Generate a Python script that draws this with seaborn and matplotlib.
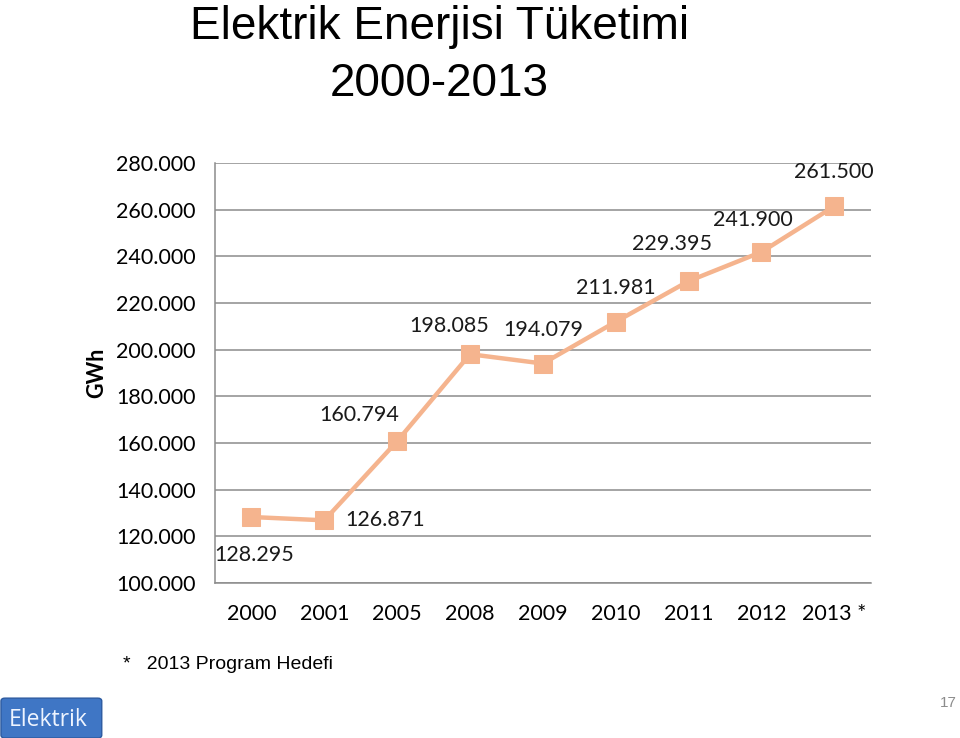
import numpy as np
import pandas as pd
import matplotlib
matplotlib.use("Agg")
import matplotlib.pyplot as plt
import seaborn as sns
from matplotlib.patches import FancyBboxPatch

years = ["2000", "2001", "2005", "2008", "2009", "2010", "2011", "2012", "2013 *"]
consumption = [128295, 126871, 160794, 198085, 194079, 211981, 229395, 241900, 261500]
# label offsets (points) relative to each marker
label_offsets = [(2, -27), (44, 0), (-27, 19), (-15, 20), (0, 24), (0, 24), (-12, 27), (-6, 23), (0, 25)]
y_ticks = list(range(100000, 280001, 20000))


def fmt(v):
    return f"{v:,.0f}".replace(",", ".") if v >= 1000 else str(v)


df = pd.DataFrame({"year": years, "gwh": consumption})

sns.set_style("white")
plt.rcParams["font.family"] = ["Lato", "DejaVu Sans"]
plt.rcParams["text.color"] = "black"
plt.rcParams["xtick.color"] = "black"
plt.rcParams["ytick.color"] = "black"
plt.rcParams["axes.labelcolor"] = "black"

fig = plt.figure(figsize=(9.6, 7.38), dpi=100)
ax = fig.add_axes([0.224, 0.210, 0.683, 0.569])

line_color = "#F5B48E"
sns.lineplot(data=df, x="year", y="gwh", ax=ax, color=line_color, linewidth=3.2,
             marker="s", markersize=13, markeredgecolor=line_color, sort=False)

ax.set_xlim(-0.5, len(years) - 0.5)
ax.set_ylim(100000, 280000)
ax.set_yticks(y_ticks)
ax.set_yticklabels([fmt(t) for t in y_ticks], fontsize=15.5)
ax.set_xticks(range(len(years)))
ax.set_xticklabels(years, fontsize=15.5)
ax.tick_params(axis="y", length=0, pad=14)
ax.tick_params(axis="x", length=0, pad=15)
ax.grid(axis="y", color="#8c8c8c", linewidth=1.1)
for side in ["top", "right"]:
    ax.spines[side].set_visible(False)
for side in ["left", "bottom"]:
    ax.spines[side].set_color("#8c8c8c")
    ax.spines[side].set_linewidth(1.1)
ax.set_xlabel("")
ax.set_ylabel("GWh", fontsize=15.5, fontweight="bold", labelpad=6)

for i, (v, off) in enumerate(zip(consumption, label_offsets)):
    ax.annotate(fmt(v), (i, v), xytext=off, textcoords="offset points",
                ha="center", va="center", fontsize=15.5, color="#1a1a1a")

title_font = ["Liberation Sans", "DejaVu Sans"]
fig.text(0.458, 0.964, "Elektrik Enerjisi Tüketimi", ha="center", va="center",
         fontsize=33, family=title_font)
fig.text(0.458, 0.886, "2000-2013", ha="center", va="center",
         fontsize=33, family=title_font)
fig.text(0.128, 0.100, "*   2013 Program Hedefi", ha="left", va="center",
         fontsize=14, family=title_font)

box = FancyBboxPatch((0.001, 0.0), 0.105, 0.054, boxstyle="round,pad=0,rounding_size=0.004",
                     transform=fig.transFigure, facecolor="#3f76c5", edgecolor="#2c5aa0",
                     linewidth=1)
fig.patches.append(box)
fig.text(0.050, 0.025, "Elektrik", ha="center", va="center", fontsize=16.5,
         color="#eef4ff", family=["Open Sans", "DejaVu Sans"])
fig.text(0.988, 0.047, "17", ha="center", va="center", fontsize=11, color="#8c8c8c",
         family=title_font)

fig.savefig("out.png", dpi=100)
